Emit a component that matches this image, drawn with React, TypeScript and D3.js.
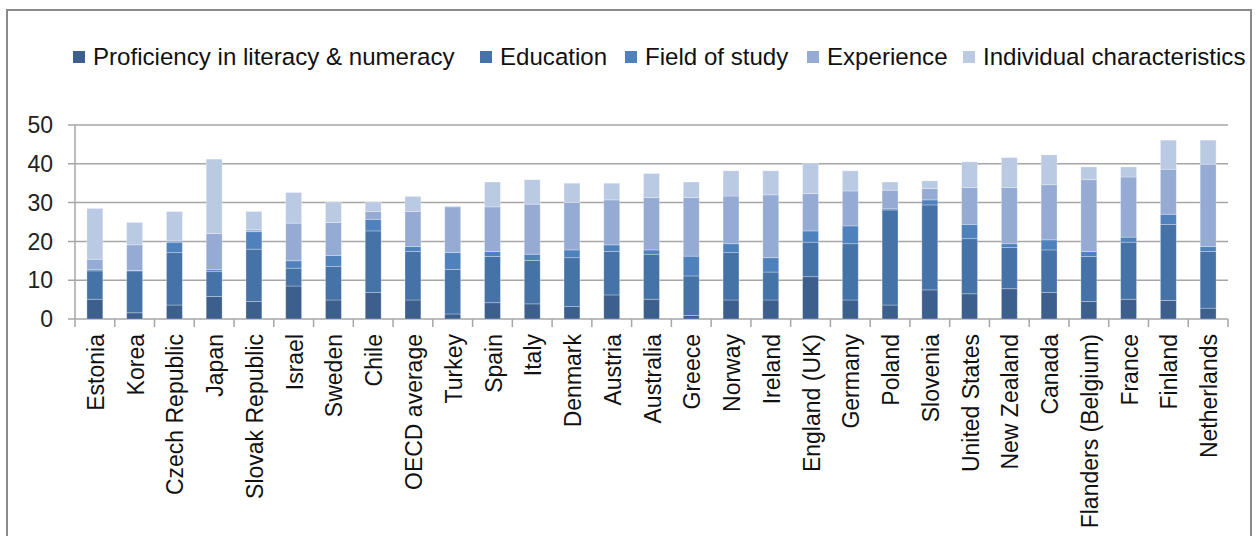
import React from "react";
import * as d3 from "d3";

const categories = [
  "Estonia", "Korea", "Czech Republic", "Japan", "Slovak Republic", "Israel", "Sweden", "Chile",
  "OECD average", "Turkey", "Spain", "Italy", "Denmark", "Austria", "Australia", "Greece", "Norway",
  "Ireland", "England (UK)", "Germany", "Poland", "Slovenia", "United States", "New Zealand",
  "Canada", "Flanders (Belgium)", "France", "Finland", "Netherlands",
];
const seriesNames = [
  "Proficiency in literacy & numeracy", "Education", "Field of study", "Experience",
  "Individual characteristics",
];
const proficiency = [5.1, 1.6, 3.6, 5.8, 4.5, 8.5, 4.9, 6.8, 4.9, 1.3, 4.2, 3.9, 3.2, 6.2, 5.1, 0.9, 4.9, 4.9, 10.9, 4.9, 3.6, 7.5, 6.5, 7.8, 6.8, 4.5, 5.1, 4.8, 2.8];
const education = [7.3, 10.8, 13.5, 6.4, 13.5, 4.6, 8.6, 15.9, 12.5, 11.5, 11.9, 11.2, 12.6, 11.2, 11.6, 10.2, 12.2, 7.2, 8.9, 14.5, 24.5, 21.9, 14.2, 10.6, 11.0, 11.6, 14.7, 19.6, 14.6];
const fieldOfStudy = [0.4, 0.1, 2.7, 0.5, 4.5, 1.9, 2.9, 3.0, 1.3, 4.3, 1.3, 1.6, 2.0, 1.7, 1.1, 5.1, 2.3, 3.7, 2.9, 4.6, 0.3, 1.3, 3.7, 1.0, 2.6, 1.3, 1.3, 2.6, 1.3];
const experience = [2.6, 6.6, 0.5, 9.3, 0.5, 9.7, 8.5, 2.0, 9.0, 11.8, 11.5, 12.9, 12.2, 11.6, 13.5, 15.1, 12.3, 16.2, 9.6, 9.0, 4.8, 2.9, 9.5, 14.5, 14.2, 18.5, 15.5, 11.6, 21.2];
const individual = [13.1, 5.8, 7.4, 19.2, 4.7, 7.9, 5.3, 2.4, 3.9, 0.2, 6.4, 6.3, 5.0, 4.3, 6.2, 4.0, 6.5, 6.2, 7.8, 5.2, 2.1, 2.0, 6.6, 7.7, 7.7, 3.3, 2.6, 7.5, 6.2];
const yTicks = [0, 10, 20, 30, 40, 50];

const colors = ["#3c5f8e", "#4572a7", "#4f81bd", "#95abd3", "#bacae3"];
const legendTextX = [93, 500, 645, 827, 983];

export default function App() {
  const W = 1258, H = 536;
  const left = 75, right = 1228, top = 125, bottom = 319;
  const font = "'Liberation Sans', Arial, sans-serif";

  const rows = categories.map((c, i) => ({
    cat: c,
    s0: proficiency[i], s1: education[i], s2: fieldOfStudy[i], s3: experience[i], s4: individual[i],
  }));
  const keys = ["s0", "s1", "s2", "s3", "s4"];
  const stacked = d3.stack<any>().keys(keys)(rows);

  const x = d3.scaleBand<string>().domain(categories).range([left, right]).paddingInner(0.6).paddingOuter(0.3);
  const xb = d3.scaleBand<string>().domain(categories).range([left, right]);
  const y = d3.scaleLinear().domain([0, 50]).range([bottom, top]);

  return (
    <svg width={W} height={H} style={{ position: "absolute", left: 0, top: 0, background: "#fff" }}>
      <rect x={7} y={10} width={1244} height={560} fill="#fff" stroke="#8a8a8a" strokeWidth={2} />
      {yTicks.map((t) => (
        <line key={t} x1={68} x2={right} y1={y(t)} y2={y(t)} stroke="#a6a6a6" strokeWidth={1.5} />
      ))}
      <line x1={left} x2={left} y1={top} y2={bottom} stroke="#a6a6a6" strokeWidth={1.5} />
      {categories.map((c) => (
        <line key={c} x1={xb(c)!} x2={xb(c)!} y1={bottom} y2={bottom + 8} stroke="#a6a6a6" strokeWidth={1.5} />
      ))}
      <line x1={right} x2={right} y1={bottom} y2={bottom + 8} stroke="#a6a6a6" strokeWidth={1.5} />
      {stacked.map((layer, li) => (
        <g key={li} fill={colors[li]}>
          {layer.map((d, i) => (
            <rect
              key={i}
              x={x(categories[i])!}
              width={x.bandwidth()}
              y={y(d[1])}
              height={Math.max(0, y(d[0]) - y(d[1]))}
              stroke="#ffffff"
              strokeOpacity={0.35}
              strokeWidth={0.8}
            />
          ))}
        </g>
      ))}
      {yTicks.map((t) => (
        <text key={t} x={53} y={y(t)} dy="0.36em" textAnchor="end" fontFamily={font} fontSize={23} fill="#222">
          {t}
        </text>
      ))}
      {categories.map((c) => {
        const cx = xb(c)! + xb.bandwidth() / 2;
        return (
          <text
            key={c}
            transform={`translate(${cx + 1},${334}) rotate(-90)`}
            textAnchor="end"
            dy="0.35em"
            fontFamily={font}
            fontSize={23}
            fill="#111"
          >
            {c}
          </text>
        );
      })}
      {seriesNames.map((n, i) => (
        <g key={n}>
          <rect x={legendTextX[i] - 20} y={51} width={12} height={12} fill={colors[i]} />
          <text x={legendTextX[i]} y={57} dy="0.35em" fontFamily={font} fontSize={24.1} fill="#111">
            {n}
          </text>
        </g>
      ))}
    </svg>
  );
}
